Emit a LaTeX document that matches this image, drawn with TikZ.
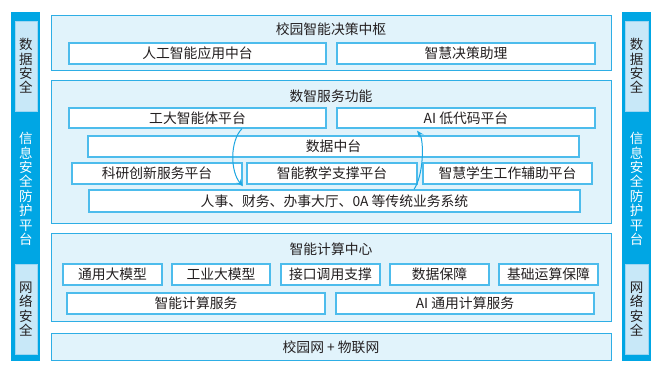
\documentclass[tikz,border=0pt]{standalone}
\usepackage{fontspec}
\setmainfont{Noto Sans CJK SC}
\usetikzlibrary{arrows.meta}
\definecolor{barblue}{HTML}{00A6E4}
\definecolor{framefill}{HTML}{E1F3FB}
\definecolor{framedraw}{HTML}{2EAEE5}
\definecolor{boxdraw}{HTML}{4DBCEC}
\definecolor{sidefill}{HTML}{C8E8F8}
\definecolor{sidedraw}{HTML}{9ED6F2}
\definecolor{txt}{HTML}{231F20}
\definecolor{arrowblue}{HTML}{1EA7E1}
\tikzset{
  frame/.style={draw=framedraw, fill=framefill, line width=1pt},
  ibox/.style={draw=boxdraw, fill=white, line width=1.3pt, inner sep=0pt, text=txt,
    font=\fontsize{13.8}{15}\selectfont},
  ttl/.style={text=txt, font=\fontsize{13.8}{15}\selectfont, inner sep=0pt},
  sidebox/.style={draw=sidedraw, fill=sidefill, line width=0.8pt},
  vtxt/.style={align=center, inner sep=0pt, font=\fontsize{13.5}{14.4}\selectfont},
  flow/.style={draw=arrowblue, line width=1pt, -{Stealth[length=7pt,width=5.5pt]}}
}
\begin{document}
\begin{tikzpicture}[x=1pt,y=-1pt]
\useasboundingbox (0,0) rectangle (664,376);
% side bars
\fill[barblue] (11,12) rectangle (40,361);
\draw[sidebox] (15,21) rectangle (37,111);
\draw[sidebox] (15,264) rectangle (37,354);
\node[vtxt, text=txt] (ls1) at (26,66) {数\\据\\安\\全};
\node[vtxt, text=white] (ls2) at (26,189) {信\\息\\安\\全\\防\\护\\平\\台};
\node[vtxt, text=txt] (ls3) at (26,309) {网\\络\\安\\全};
\fill[barblue] (622,12) rectangle (651,361);
\draw[sidebox] (625,21) rectangle (648,111);
\draw[sidebox] (625,264) rectangle (648,354);
\node[vtxt, text=txt] (rs1) at (636.5,66) {数\\据\\安\\全};
\node[vtxt, text=white] (rs2) at (636.5,189) {信\\息\\安\\全\\防\\护\\平\\台};
\node[vtxt, text=txt] (rs3) at (636.5,309) {网\\络\\安\\全};
% frames
\draw[frame] (51,15) rectangle (611,70);
\draw[frame] (51,80) rectangle (611,223);
\draw[frame] (51,233) rectangle (611,321);
\draw[frame] (51,333) rectangle (611,360);
\node[ttl] (t1) at (331,29) {校园智能决策中枢};
\node[ttl] (t2) at (331,96) {数智服务功能};
\node[ttl] (t3) at (331,249) {智能计算中心};
\node[ttl] (t4) at (331,347) {校园网 + 物联网};
% layer 1
\node[ibox, minimum width=257, minimum height=21] (ai1) at (197.5,53.5) {人工智能应用中台};
\node[ibox, minimum width=258, minimum height=21] (zh) at (466,53.5) {智慧决策助理};
% layer 2
\node[ibox, minimum width=257, minimum height=20] (gd) at (197.5,118) {工大智能体平台};
\node[ibox, minimum width=258, minimum height=20] (ai) at (466,118) {AI 低代码平台};
\node[ibox, minimum width=491, minimum height=21] (sj) at (333.5,146.5) {数据中台};
\node[ibox, minimum width=170, minimum height=21] (ky) at (157,173.5) {科研创新服务平台};
\node[ibox, minimum width=170, minimum height=21] (jx) at (332,173.5) {智能教学支撑平台};
\node[ibox, minimum width=169, minimum height=21] (xs) at (507.5,173.5) {智慧学生工作辅助平台};
\node[ibox, minimum width=491, minimum height=22] (rs) at (334.5,201) {人事、财务、办事大厅、0A 等传统业务系统};
% layer 3
\node[ibox, minimum width=99, minimum height=21] (m1) at (112.5,274.5) {通用大模型};
\node[ibox, minimum width=98, minimum height=21] (m2) at (221,274.5) {工业大模型};
\node[ibox, minimum width=99, minimum height=21] (m3) at (330.5,274.5) {接口调用支撑};
\node[ibox, minimum width=99, minimum height=21] (m4) at (439.5,274.5) {数据保障};
\node[ibox, minimum width=99, minimum height=21] (m5) at (548.5,274.5) {基础运算保障};
\node[ibox, minimum width=258, minimum height=21] (c1) at (196,303.5) {智能计算服务};
\node[ibox, minimum width=258, minimum height=21] (c2) at (465,303.5) {AI 通用计算服务};
% arrows
\draw[flow] ([xshift=44.5pt]gd.south) .. controls +(-12,12) and +(-13,-15) .. ([xshift=-91.5pt,yshift=3pt]rs.north);
\draw[flow] ([xshift=79.5pt]rs.north) .. controls +(10,-15) and +(7,9) .. ([xshift=-49pt,yshift=-2pt]ai.south);
\end{tikzpicture}
\end{document}
